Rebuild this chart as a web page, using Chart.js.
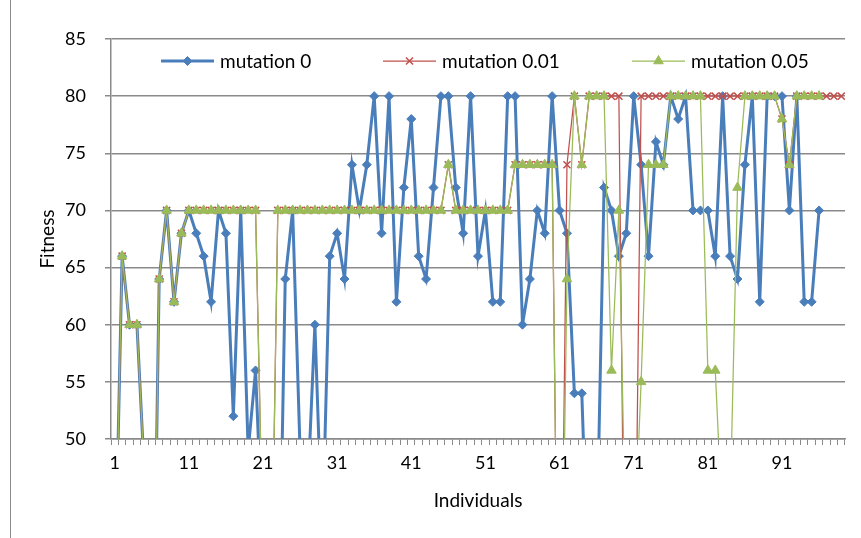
<!DOCTYPE html>
<html>
<head>
<meta charset="utf-8">
<script src="https://cdn.jsdelivr.net/npm/chart.js@4.4.0/dist/chart.umd.min.js"></script>
<style>
	html, body { margin: 0; padding: 0; background: #fff; }
	#wrap { position: relative; width: 861px; height: 538px; }
	#frame { position: absolute; left: 10px; top: 0; width: 1px; height: 538px; background: #8a8a8a; }
</style>
</head>
<body>
<div id="wrap">
	<canvas id="mycanvas" width="861" height="538"></canvas>
	<div id="frame"></div>
</div>
<script>
var individuals = [
	"1","2","3","4","5","6","7","8","9","10",
	"11","12","13","14","15","16","17","18","19","20",
	"21","22","23","24","25","26","27","28","29","30",
	"31","32","33","34","35","36","37","38","39","40",
	"41","42","43","44","45","46","47","48","49","50",
	"51","52","53","54","55","56","57","58","59","60",
	"61","62","63","64","65","66","67","68","69","70",
	"71","72","73","74","75","76","77","78","79","80",
	"81","82","83","84","85","86","87","88","89","90",
	"91","92","93","94","95","96","97","98","99"
];
var xTickLabels = ["1","11","21","31","41","51","61","71","81","91"];
var seriesNames = ["mutation 0", "mutation 0.01", "mutation 0.05"];

var mutation0 = [
	36,66,60,60,47,23,64,70,62,68,
	70,68,66,62,70,68,52,70,49,56,
	40,30,29,64,70,49,45,60,41,66,
	68,64,74,70,74,80,68,80,62,72,
	78,66,64,72,80,80,72,68,80,66,
	70,62,62,80,80,60,64,70,68,80,
	70,68,54,54,35,40,72,70,66,68,
	80,74,66,76,74,80,78,80,70,70,
	70,66,80,66,64,74,80,62,80,80,
	80,70,80,62,62,70
];
var mutation001 = [
	36,66,60,60,47,23,64,70,62,68,
	70,70,70,70,70,70,70,70,70,70,
	40,30,70,70,70,70,70,70,70,70,
	70,70,70,70,70,70,70,70,70,70,
	70,70,70,70,70,74,70,70,70,70,
	70,70,70,70,74,74,74,74,74,74,
	20,74,80,74,80,80,80,80,80,20,
	25,80,80,80,80,80,80,80,80,80,
	80,80,80,80,80,80,80,80,80,80,
	78,74,80,80,80,80,80,80,80
];
var mutation005 = [
	36,66,60,60,47,23,64,70,62,68,
	70,70,70,70,70,70,70,70,70,70,
	40,30,70,70,70,70,70,70,70,70,
	70,70,70,70,70,70,70,70,70,70,
	70,70,70,70,70,74,70,70,70,70,
	70,70,70,70,74,74,74,74,74,74,
	20,64,80,74,80,80,80,56,70,38,
	39,55,74,74,74,80,80,80,80,80,
	56,56,42,44,72,80,80,80,80,80,
	78,74,80,80,80,80
];

var FONT = "Lato, 'DejaVu Sans', sans-serif";
var gridColor = "#8a8a8a";

// legend drawn inside the plot, like the original
var insideLegend = {
	id: "insideLegend",
	afterDraw: function(chart) {
		var ctx = chart.ctx;
		var y = 61;
		var spots = [161, 383, 632];
		ctx.save();
		ctx.font = "19px " + FONT;
		ctx.textBaseline = "middle";
		ctx.fillStyle = "#000";
		chart.data.datasets.forEach(function(ds, i) {
			var x0 = spots[i], x1 = x0 + 53, cx = (x0 + x1) / 2;
			ctx.strokeStyle = ds.borderColor;
			ctx.lineWidth = ds.borderWidth;
			ctx.beginPath();
			ctx.moveTo(x0, y);
			ctx.lineTo(x1, y);
			ctx.stroke();
			ctx.fillStyle = ds.pointBackgroundColor;
			ctx.strokeStyle = ds.pointBorderColor;
			ctx.lineWidth = ds.pointBorderWidth;
			var r = ds.pointRadius;
			ctx.beginPath();
			if (ds.pointStyle === "rectRot") {
				ctx.moveTo(cx - r, y); ctx.lineTo(cx, y - r); ctx.lineTo(cx + r, y); ctx.lineTo(cx, y + r);
				ctx.closePath(); ctx.fill(); ctx.stroke();
			} else if (ds.pointStyle === "triangle") {
				ctx.moveTo(cx, y - r);
				ctx.lineTo(cx + r * 0.866, y + r * 0.5);
				ctx.lineTo(cx - r * 0.866, y + r * 0.5);
				ctx.closePath(); ctx.fill(); ctx.stroke();
			} else {
				var d = r * 0.707;
				ctx.moveTo(cx - d, y - d); ctx.lineTo(cx + d, y + d);
				ctx.moveTo(cx + d, y - d); ctx.lineTo(cx - d, y + d);
				ctx.stroke();
			}
			ctx.fillStyle = "#000";
			ctx.fillText(ds.label, x1 + 6, y + 1);
		});
		ctx.restore();
	}
};

var chartdata = {
	labels: individuals,
	datasets: [
		{
			label: seriesNames[0],
			data: mutation0,
			borderColor: "#4a7ebb",
			borderWidth: 3,
			pointStyle: "rectRot",
			pointRadius: 4.5,
			pointBackgroundColor: "#4a7ebb",
			pointBorderColor: "#4a7ebb",
			pointBorderWidth: 1,
			order: 2,
			clip: 0
		},
		{
			label: seriesNames[1],
			data: mutation001,
			borderColor: "#c0504d",
			borderWidth: 1.25,
			pointStyle: "crossRot",
			pointRadius: 5,
			pointBackgroundColor: "#c0504d",
			pointBorderColor: "#c0504d",
			pointBorderWidth: 1.5,
			order: 1,
			clip: 0
		},
		{
			label: seriesNames[2],
			data: mutation005,
			borderColor: "#9bbb59",
			borderWidth: 1.25,
			pointStyle: "triangle",
			pointRadius: 5.5,
			pointBackgroundColor: "#9bbb59",
			pointBorderColor: "#9bbb59",
			pointBorderWidth: 1,
			order: 0,
			clip: 0
		}
	]
};

var ctx = document.getElementById("mycanvas");

var LineGraph = new Chart(ctx, {
	type: "line",
	data: chartdata,
	options: {
		responsive: false,
		animation: false,
		layout: { padding: { left: 0, right: 16, top: 39, bottom: 0 } },
		elements: { line: { tension: 0, fill: false } },
		plugins: {
			legend: { display: false },
			tooltip: { enabled: false }
		},
		scales: {
			x: {
				offset: true,
				afterFit: function(s) { s.height = 99; },
				grid: { offset: true, drawOnChartArea: false, drawTicks: true, tickLength: 6, color: gridColor, lineWidth: 1 },
				border: { display: true, color: gridColor, width: 1.5 },
				ticks: {
					autoSkip: false,
					maxRotation: 0,
					padding: 7,
					color: "#000",
					font: { family: FONT, size: 18 },
					callback: function(val) {
						var lab = this.getLabelForValue(val);
						return xTickLabels.indexOf(lab) >= 0 ? lab : "";
					}
				},
				title: {
					display: true,
					text: "Individuals",
					color: "#000",
					font: { family: FONT, size: 19 },
					padding: { top: 0, bottom: 26 }
				}
			},
			y: {
				min: 50,
				max: 85,
				afterFit: function(s) { s.width = 111; },
				grid: { color: gridColor, lineWidth: 1.5, tickLength: 6 },
				border: { display: true, color: gridColor, width: 1.5 },
				ticks: {
					stepSize: 5,
					padding: 19,
					color: "#000",
					font: { family: FONT, size: 18 }
				},
				title: {
					display: true,
					text: "Fitness",
					color: "#000",
					font: { family: FONT, size: 19 },
					padding: { top: 36, bottom: 0 }
				}
			}
		}
	},
	plugins: [insideLegend]
});
</script>
</body>
</html>
